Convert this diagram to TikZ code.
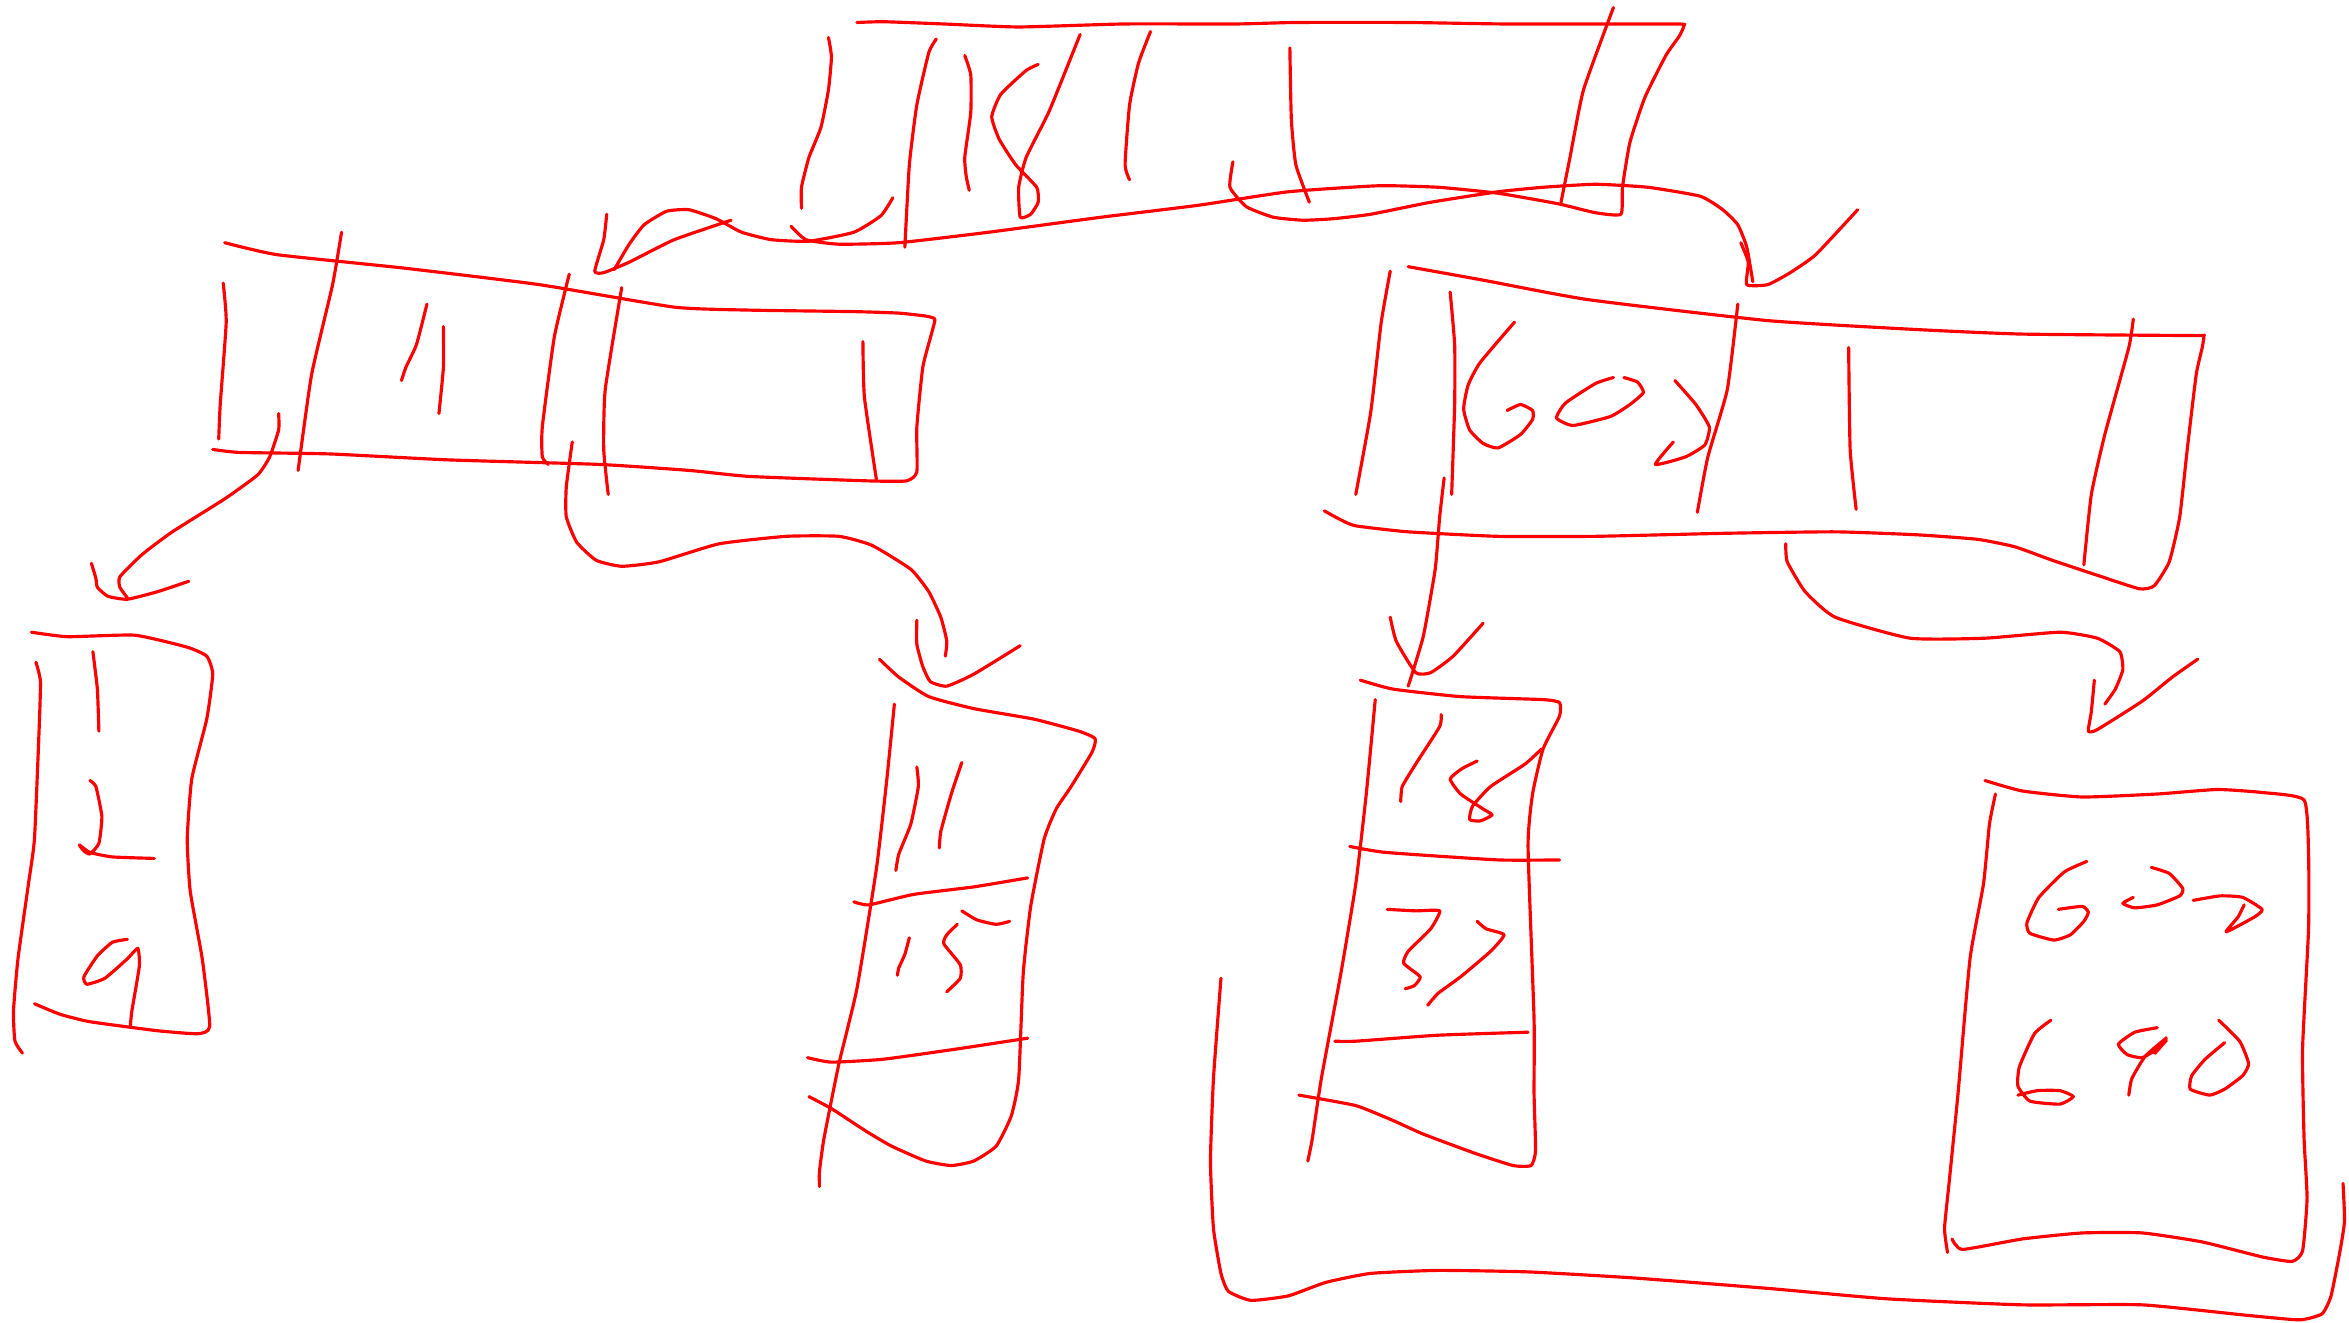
\documentclass[tikz,border=0pt]{standalone}
\definecolor{pen}{RGB}{255,0,0}
\tikzset{sk/.style={draw=pen,line width=1.2pt,line cap=round,line join=round}}
\newcommand{\stroke}[1]{\draw[sk] plot[smooth,tension=0.3] coordinates {#1};}
\begin{document}
\begin{tikzpicture}[x=0.02cm,y=-0.02cm]
\useasboundingbox[fill=white] (0,0) rectangle (1568,883);
% top box
\stroke{(572,15)(590,14.5)(630,16)(680,18)(750,16)(825,16)(865,15)(940,15)(1005,16)(1118,16)(1124,17)(1121,24)(1112,37)(1098,65)(1088,95)(1083,125)(1082,143)(1065,142)(1040,136)(1000,129)(960,125)(920,124)(860,128)(800,137)(735,145)(660,155)(600,162)(560,163)(538,160)(528,151)}
\stroke{(823,108)(821,125)(832,138)(850,145)(870,147)(890,146)(915,143)(955,135)(1000,128)(1030,125)(1065,123)(1100,125)(1135,131)(1150,140)(1160,150)(1166,165)(1170,188)}
\stroke{(1162,162)(1167,175)(1166,190)(1180,190)(1195,182)(1212,170)(1240,140)}
\stroke{(405,143)(403,160)(397,181)(403,182)(420,175)(450,160)(488,147)}
\stroke{(410,180)(420,163)(430,150)(445,141)(460,140)(478,146)(495,155)(515,160)(540,161)(570,155)(588,144)(596,132)}
\stroke{(553,25)(555,38)(553,60)(548,85)(540,105)(535,125)(535,139)}
\stroke{(625,26)(620,35)(612,70)(607,110)(604,165)}
\stroke{(644,37)(648,50)(648,75)(644,105)(645,118)(647,127)}
\stroke{(693,43)(685,47)(668,63)(662,78)(667,93)(678,110)(692,125)(693,135)(688,143)(681,145)(680,125)(685,105)(700,75)(715,38)(721,23)}
\stroke{(768,21)(760,42)(754,70)(751,110)(754,120)}
\stroke{(861,32)(862,80)(865,110)(874,135)}
\stroke{(1077,5)(1057,60)(1048,105)(1042,135)}
% left box
\stroke{(150,162)(185,170)(270,179)(360,190)(450,205)(500,207)(570,208)(600,209)(618,211)(624,213)(622,222)(616,245)(612,285)(612,315)(605,321)(580,321)(500,318)(460,314)(400,310)(300,307)(220,303)(160,302)(142,300)}
\stroke{(228,155)(222,190)(208,250)(199,314)}
\stroke{(149,189)(151,215)(147,270)(146,293)}
\stroke{(285,203)(278,230)(271,245)(268,254)}
\stroke{(296,218)(296,245)(293,276)}
\stroke{(380,183)(370,225)(362,285)(362,305)(366,310)}
\stroke{(415,192)(404,260)(403,300)(406,330)}
\stroke{(576,228)(577,265)(585,320)}
\stroke{(186,276)(186,287)(180,305)(172,317)(150,333)(115,355)(95,370)(80,385)(80,392)(85,399)}
\stroke{(61,376)(64,386)(65,392)(72,398)(85,400)(105,395)(126,388)}
\stroke{(382,295)(378,325)(378,345)(385,362)(398,374)(415,378)(440,375)(480,363)(525,358)(560,358)(582,364)(608,380)(620,395)(628,412)(632,428)(631,438)}
% far left box
\stroke{(21,422)(45,425)(90,424)(125,432)(138,438)(142,450)(138,480)(128,520)(125,560)(127,595)(135,640)(140,685)(132,690)(105,688)(60,682)(40,677)(23,670)}
\stroke{(24,442)(27,455)(26,490)(23,560)(19,590)(12,640)(9,675)(10,695)(15,703)}
\stroke{(62,435)(65,460)(66,488)}
\stroke{(60,521)(64,525)(68,545)(66,563)(60,570)(56,568)(53,564)(60,569)(75,572)(103,573)}
\stroke{(85,627)(75,629)(65,638)(56,652)(58,657)(70,653)(85,640)(92,633)(93,645)(88,675)(87,685)}
% lower middle-left box
\stroke{(587,440)(600,452)(620,465)(650,473)(690,480)(720,488)(731,493)(729,502)(715,525)(705,540)(697,560)(688,605)(683,650)(680,720)(675,745)(665,765)(650,775)(635,778)(618,775)(595,765)(578,755)(555,740)(540,732)}
\stroke{(612,414)(612,430)(616,445)(621,455)(632,458)(650,450)(681,431)}
\stroke{(597,470)(592,520)(585,580)(572,660)(560,710)(550,760)(547,782)(547,792)}
\stroke{(612,512)(613,525)(608,550)(600,570)(598,581)}
\stroke{(642,509)(635,530)(628,555)(627,566)}
\stroke{(570,602)(580,604)(610,597)(650,592)(686,586)}
\stroke{(539,706)(555,709)(590,707)(640,700)(686,693)}
\stroke{(607,626)(604,637)(600,646)(599,651)}
\stroke{(642,608)(652,614)(665,617)(674,615)}
\stroke{(639,617)(632,624)(630,630)(641,644)(641,653)(632,662)}
% right box
\stroke{(940,178)(990,187)(1060,200)(1180,214)(1280,220)(1350,223)(1465,224)(1471,224)(1470,232)(1466,250)(1460,300)(1455,345)(1448,375)(1438,391)(1428,393)(1400,384)(1370,374)(1345,365)(1320,360)(1280,357)(1225,355)(1150,356)(1065,358)(1000,358)(940,355)(905,351)(895,347)(884,341)}
\stroke{(928,181)(922,215)(915,275)(905,330)}
\stroke{(968,195)(971,230)(971,270)(969,330)}
\stroke{(1011,215)(988,242)(980,257)(977,273)(981,287)(990,296)(1000,299)(1015,290)(1023,280)(1023,274)(1015,270)(1006,274)}
\stroke{(1077,252)(1065,256)(1045,269)(1039,279)(1050,284)(1075,278)(1088,270)(1097,262)(1093,255)(1084,252)}
\stroke{(1118,254)(1132,270)(1141,285)(1138,297)(1125,305)(1105,310)(1117,295)}
\stroke{(1160,203)(1153,260)(1140,305)(1133,342)}
\stroke{(1234,232)(1235,300)(1239,340)}
\stroke{(1424,213)(1421,232)(1405,290)(1396,330)(1391,377)}
\stroke{(964,319)(961,345)(958,380)(950,425)(940,458)}
\stroke{(928,412)(932,428)(945,449)(955,449)(970,438)(990,416)}
\stroke{(1192,363)(1193,375)(1205,395)(1225,412)(1275,426)(1325,426)(1375,422)(1400,426)(1415,435)(1417,447)(1412,460)(1405,470)}
\stroke{(1398,454)(1396,475)(1394,488)(1400,487)(1430,468)(1450,452)(1467,440)}
% lower middle box
\stroke{(908,454)(930,460)(975,465)(1030,467)(1041,469)(1041,478)(1030,500)(1023,530)(1020,565)(1024,680)(1024,730)(1025,768)(1022,778)(1010,778)(985,770)(950,757)(930,748)(905,738)(867,731)}
\stroke{(918,467)(912,530)(905,590)(895,650)(882,720)(876,760)(873,775)}
\stroke{(962,477)(961,485)(945,510)(936,525)(935,535)}
\stroke{(986,508)(976,513)(968,520)(975,530)(990,540)(996,544)(988,548)(981,547)(983,538)(995,525)(1018,510)(1029,500)}
\stroke{(901,565)(925,569)(1000,574)(1041,574)}
\stroke{(926,607)(945,608)(961,608)(955,620)(940,635)(937,643)(948,652)(944,658)(938,660)}
\stroke{(986,615)(992,620)(1004,624)(995,635)(975,652)(960,663)(953,671)}
\stroke{(891,695)(905,695)(960,691)(1020,689)}
% long curve
\stroke{(815,653)(810,720)(808,775)(810,820)(815,850)(820,862)(835,868)(860,865)(885,856)(915,850)(960,848)(1020,849)(1090,853)(1180,860)(1260,867)(1350,871)(1430,871)(1500,878)(1535,881)(1550,877)(1556,865)(1562,835)(1565,815)(1564,790)}
% lower right box
\stroke{(1325,521)(1350,528)(1390,532)(1440,530)(1480,527)(1510,529)(1538,534)(1541,570)(1541,620)(1537,700)(1538,760)(1540,800)(1537,835)(1530,842)(1510,839)(1470,829)(1430,823)(1390,823)(1350,827)(1310,834)(1303,827)}
\stroke{(1332,530)(1328,550)(1324,590)(1315,640)(1307,730)(1301,790)(1298,820)(1300,836)}
\stroke{(1393,575)(1378,582)(1361,599)(1353,616)(1355,623)(1371,627.5)(1382,624)(1391,615)(1394,609)(1390,605)(1374,607)}
\stroke{(1436,579)(1448,583)(1457,593)(1455,598)(1440,604)(1425,606)(1417,603)(1424,599)}
\stroke{(1464,601)(1482,598)(1497,599)(1510,607)(1505,612)(1486,622)(1494,612)(1498,604)}
\stroke{(1369,681)(1358,690)(1348,712)(1347,725)(1355,735)(1375,737)(1384,732)(1375,728)(1360,728)(1347,731)}
\stroke{(1440,686)(1425,689)(1414,697)(1420,704)(1430,706)(1440,700)(1446,693)(1432,705)(1423,720)(1421,731)}
\stroke{(1481,681)(1495,695)(1501,710)(1497,718)(1485,727)(1475,731)(1462,727)(1463,718)(1472,707)(1485,696)}
\fill[pen] (1446,691.5) -- (1447,695) -- (1439,704) -- (1435,703) -- cycle;
\end{tikzpicture}
\end{document}
